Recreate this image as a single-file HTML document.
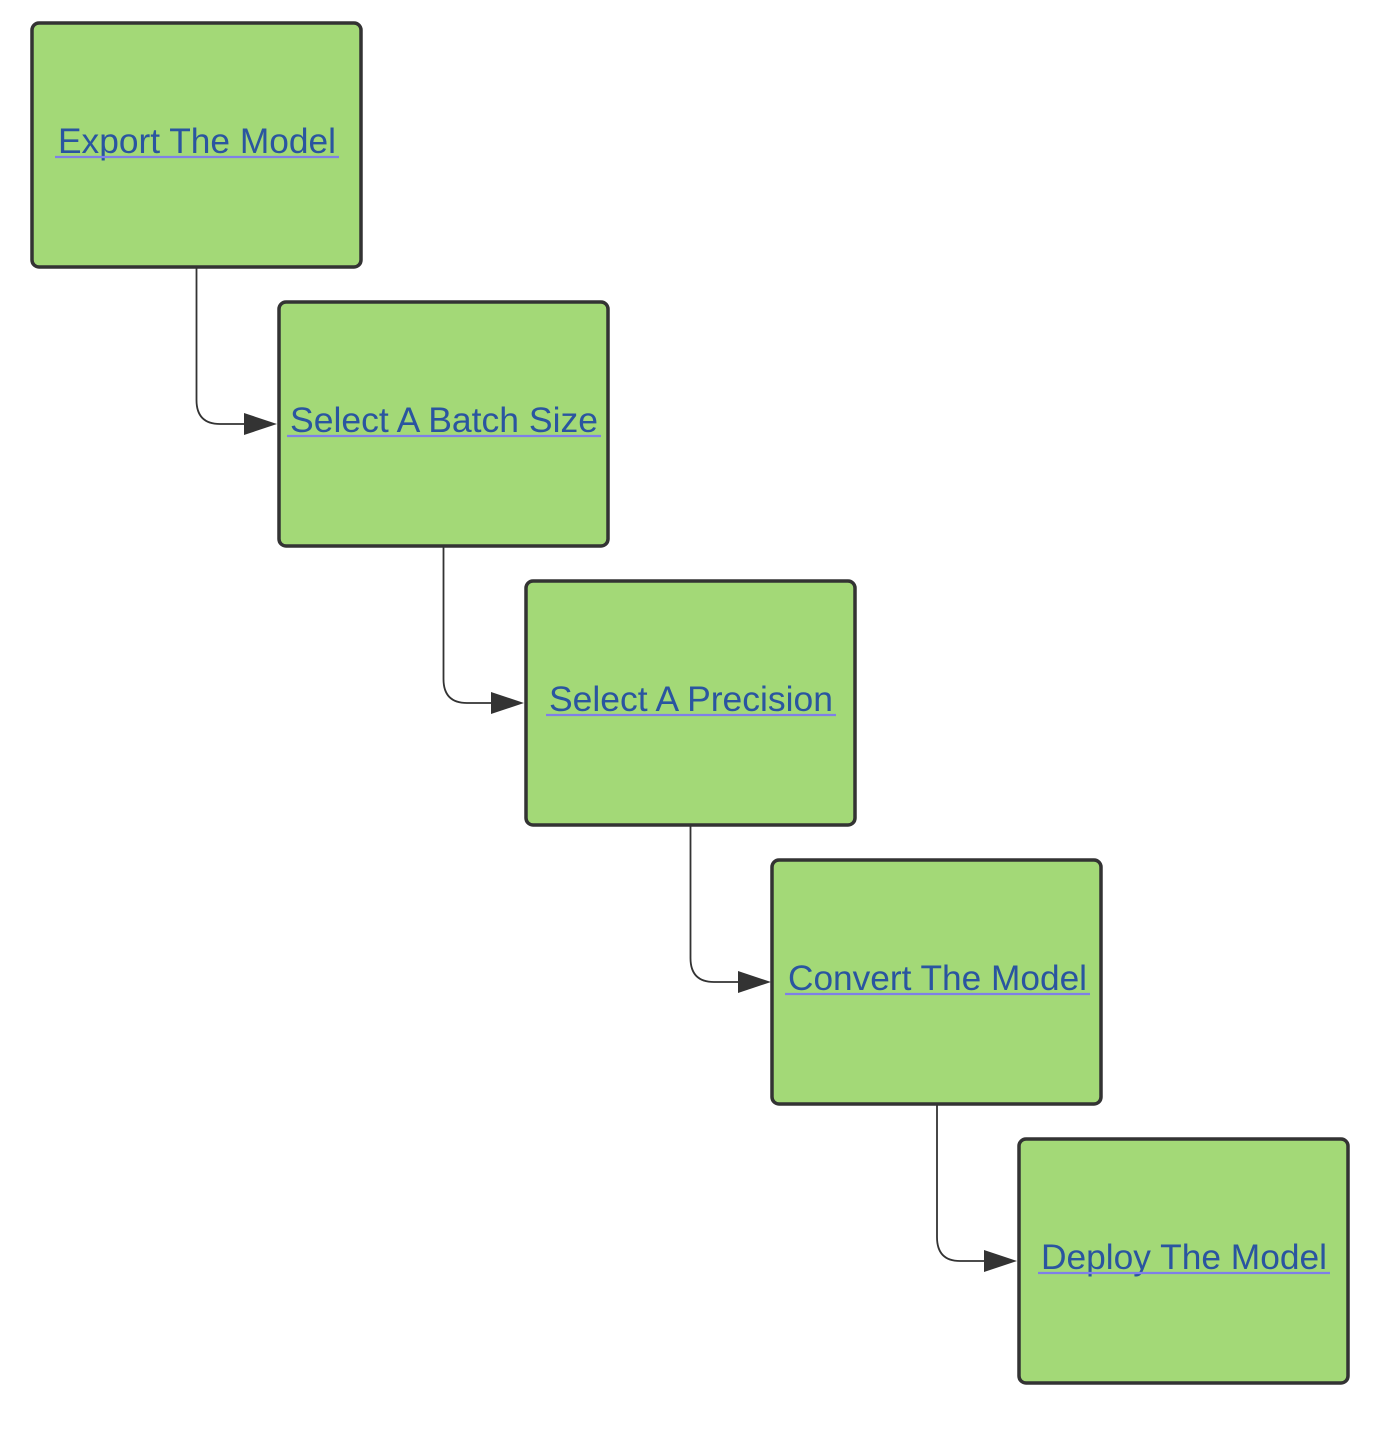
<!DOCTYPE html>
<html><head><meta charset="utf-8"><style>
html,body{margin:0;padding:0;background:#fff;}
svg{display:block}
text{font-family:"Liberation Sans",Arial,sans-serif;font-size:35px;fill:#2a55a0;}
</style></head><body>
<svg width="1390" height="1430" viewBox="0 0 1390 1430" xmlns="http://www.w3.org/2000/svg">
<g fill="#a3d977" stroke="#333" stroke-width="3.5">
<rect x="32" y="23" width="329" height="244" rx="7"/>
<rect x="279" y="302" width="329" height="244" rx="7"/>
<rect x="526" y="581" width="329" height="244" rx="7"/>
<rect x="772" y="860" width="329" height="244" rx="7"/>
<rect x="1019" y="1139" width="329" height="244" rx="7"/>
</g>
<g fill="none" stroke="#333" stroke-width="1.8">
<path d="M196.5 268 V400 Q196.5 424 220 424 H248"/>
<path d="M443.5 547 V679 Q443.5 703 467 703 H495"/>
<path d="M690.5 826 V958 Q690.5 982 714 982 H742"/>
<path d="M937 1105 V1237 Q937 1261 960 1261 H988"/>
</g>
<g fill="#333">
<polygon points="244,413 277,424 244,435"/>
<polygon points="491,692 524,703 491,714"/>
<polygon points="738,971 771,982 738,993"/>
<polygon points="984,1250 1017,1261 984,1272"/>
</g>
<g>
<text x="58" y="153" textLength="278" lengthAdjust="spacingAndGlyphs">Export The Model</text>
<text x="290" y="432" textLength="308" lengthAdjust="spacingAndGlyphs">Select A Batch Size</text>
<text x="549" y="711" textLength="284" lengthAdjust="spacingAndGlyphs">Select A Precision</text>
<text x="788" y="990" textLength="299" lengthAdjust="spacingAndGlyphs">Convert The Model</text>
<text x="1041" y="1269" textLength="286" lengthAdjust="spacingAndGlyphs">Deploy The Model</text>
</g>
<g stroke="#7f7fe8" stroke-width="2.2">
<line x1="55" y1="157" x2="339" y2="157"/>
<line x1="287" y1="436" x2="601" y2="436"/>
<line x1="546" y1="715" x2="836" y2="715"/>
<line x1="785" y1="994" x2="1090" y2="994"/>
<line x1="1038" y1="1273" x2="1330" y2="1273"/>
</g>
</svg>
</body></html>
